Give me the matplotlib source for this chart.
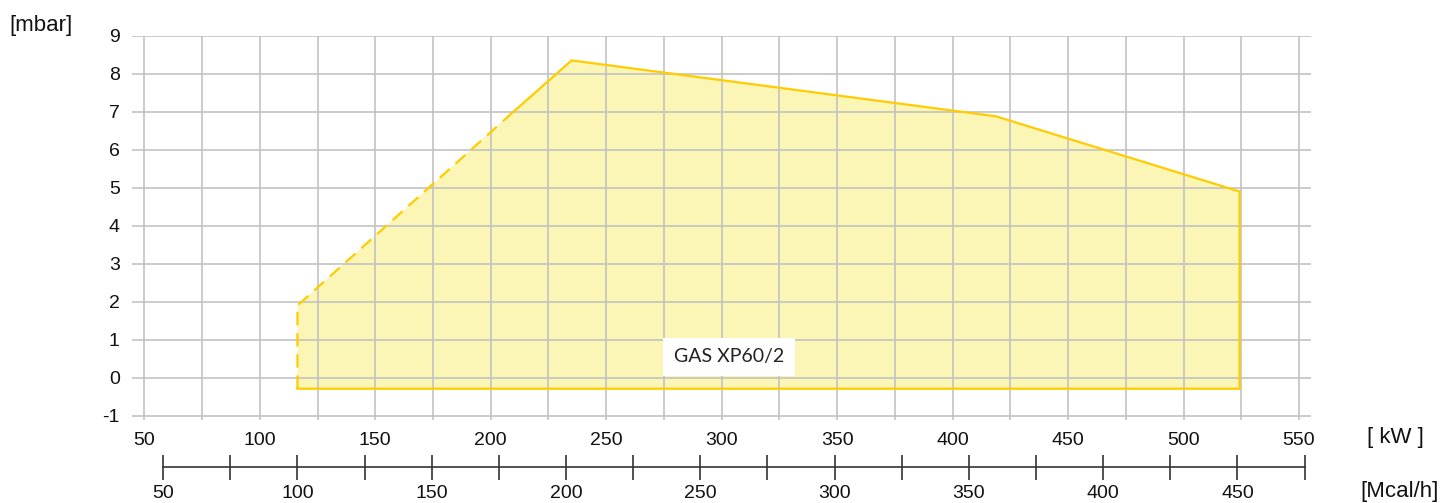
import matplotlib
matplotlib.use("Agg")
import matplotlib.pyplot as plt
import matplotlib.ticker as mticker

plt.rcParams["font.family"] = ["Liberation Sans", "DejaVu Sans"]
plt.rcParams["axes.unicode_minus"] = False

# axis values
kw_ticks = list(range(50, 551, 50))
kw_grid = list(range(50, 551, 25))
mbar_ticks = list(range(-1, 10))
mcal_major = list(range(50, 451, 50))
mcal_minor = list(range(75, 476, 50))

# working field of the burner (kW, mbar)
field_kw = [116.3, 116.3, 208.0, 235.0, 418.7, 524.3, 524.3]
field_mbar = [-0.29, 1.9, 6.9, 8.35, 6.88, 4.9, -0.29]
model = "GAS XP60/2"

KW_PER_MCAL = 1.163

fill_col = "#FBF6B5"
line_col = "#FFCC00"
grid_col = "#C2C2C2"

fig = plt.figure(figsize=(14.56, 5.03), dpi=100)
ax = fig.add_axes([0.0909, 0.166, 0.8095, 0.763])

ax.fill(field_kw, field_mbar, color=fill_col, lw=0, zorder=1)
# dashed part: left edge and lower rising edge
ax.plot(field_kw[:3], field_mbar[:3], color=line_col, lw=1.6, dashes=(6, 3.5), zorder=3)
# solid part
ax.plot(field_kw[2:] + [field_kw[0]], field_mbar[2:] + [field_mbar[0]],
        color=line_col, lw=1.6, zorder=3, solid_joinstyle="miter")

ax.set_xlim(44.8, 555.2)
ax.set_ylim(-1.1, 9)
ax.set_xticks(kw_ticks)
ax.set_xticks(kw_grid, minor=True)
ax.set_yticks(mbar_ticks)
ax.grid(True, which="both", color=grid_col, lw=1.2)
ax.set_axisbelow(False)
for s in ax.spines.values():
    s.set_visible(False)
ax.tick_params(axis="both", which="both", length=0, labelsize=14, colors="#111111")
ax.tick_params(axis="x", pad=9)
ax.tick_params(axis="y", pad=9)

ax.text(303.3, 0.55, model, ha="center", va="center", fontsize=14,
        family=["Lato", "DejaVu Sans"], color="#222222", zorder=4,
        bbox=dict(boxstyle="square,pad=0.55", fc="white", ec="none"))

sec = ax.secondary_xaxis(-0.1245, functions=(lambda x: x / KW_PER_MCAL,
                                              lambda x: x * KW_PER_MCAL))
sec.set_xticks(mcal_major)
sec.xaxis.set_minor_locator(mticker.FixedLocator(mcal_minor))
sec.spines["bottom"].set_bounds(50, 475)
sec.spines["bottom"].set_color("#333333")
sec.spines["bottom"].set_linewidth(1.2)
sec.tick_params(axis="x", which="both", direction="inout", length=18, width=1.2,
                color="#333333", labelsize=14, labelcolor="#111111", pad=4)

fig.text(9 / 1456, 1 - 25 / 503, "[mbar]", fontsize=16, va="center", ha="left", color="#111111")
fig.text(1367 / 1456, 1 - 438 / 503, "[ kW ]", fontsize=16, va="center", ha="left", color="#111111")
fig.text(1360 / 1456, 1 - 492 / 503, "[Mcal/h]", fontsize=16, va="center", ha="left", color="#111111")

fig.savefig("out.png", dpi=100)
